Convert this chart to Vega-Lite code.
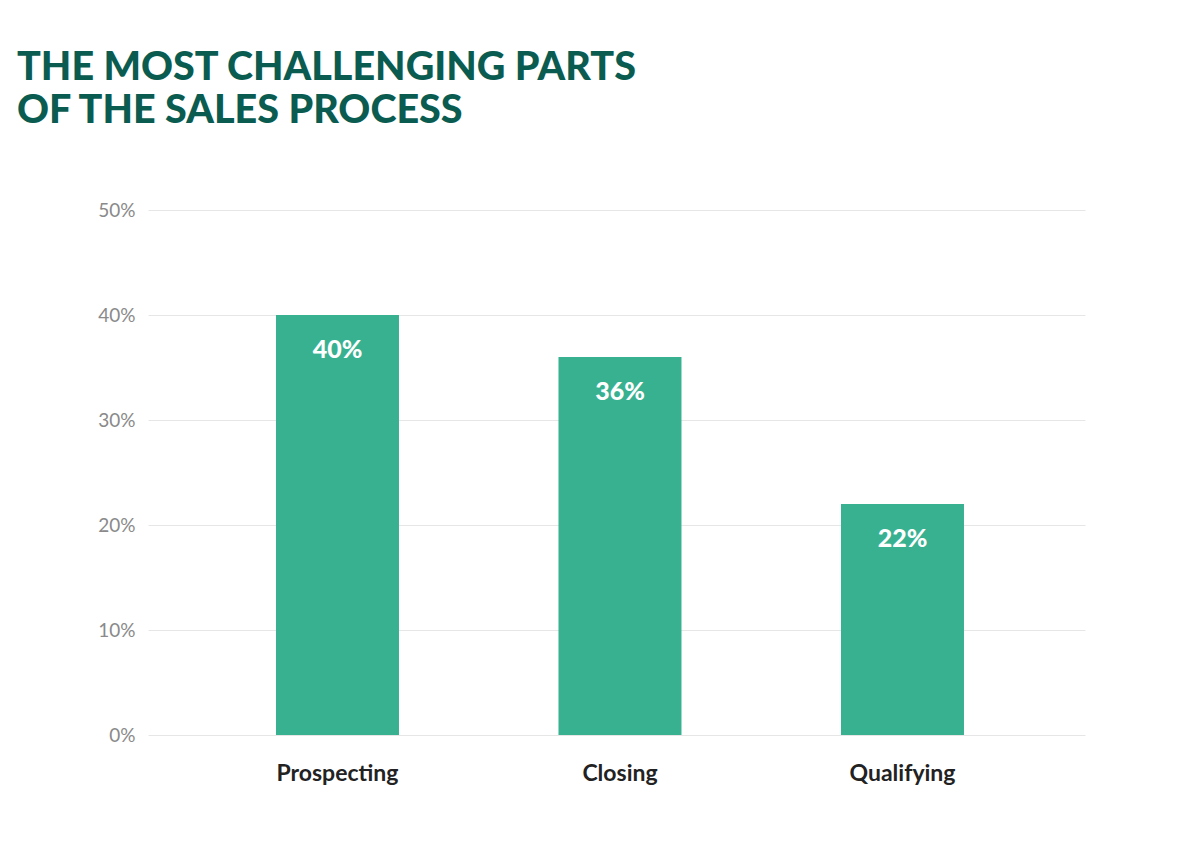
{
  "$schema": "https://vega.github.io/schema/vega-lite/v6.json",
  "autosize": {"type": "none"},
  "padding": {"left": 148, "top": 210, "right": 115, "bottom": 119},
  "width": 937,
  "height": 525,
  "background": "white",
  "title": {
    "text": ["THE MOST CHALLENGING PARTS", "OF THE SALES PROCESS"],
    "anchor": "start",
    "frame": "group",
    "dx": -131,
    "offset": 70,
    "font": "Lato",
    "fontWeight": 900,
    "fontSize": 39.5,
    "lineHeight": 43,
    "color": "#0b5c50"
  },
  "data": {
    "values": [
      {"part": "Prospecting", "share": 0.40},
      {"part": "Closing", "share": 0.36},
      {"part": "Qualifying", "share": 0.22}
    ]
  },
  "config": {"view": {"stroke": null}},
  "encoding": {
    "x": {
      "field": "part",
      "type": "nominal",
      "sort": null,
      "scale": {"paddingInner": 0.5646, "paddingOuter": 0.4407, "align": 0.514},
      "axis": {
        "title": null,
        "labelAngle": 0,
        "domain": false,
        "ticks": false,
        "labelFont": "Lato",
        "labelFontWeight": "bold",
        "labelFontSize": 23,
        "labelColor": "#222222",
        "labelPadding": 27
      }
    },
    "y": {
      "field": "share",
      "type": "quantitative",
      "scale": {"domain": [0, 0.5]},
      "axis": {
        "title": null,
        "format": ".0%",
        "values": [0, 0.1, 0.2, 0.3, 0.4, 0.5],
        "domain": false,
        "ticks": false,
        "gridColor": "#e6e6e6",
        "gridWidth": 1,
        "labelFont": "Lato",
        "labelFontSize": 19,
        "labelColor": "#8a8a8a",
        "labelPadding": 13
      }
    }
  },
  "layer": [
    {"mark": {"type": "bar", "color": "#38b191"}},
    {
      "mark": {
        "type": "text",
        "color": "white",
        "font": "Lato",
        "fontWeight": 900,
        "fontSize": 25,
        "baseline": "alphabetic",
        "dy": 43
      },
      "encoding": {
        "text": {"field": "share", "type": "quantitative", "format": ".0%"}
      }
    }
  ]
}
